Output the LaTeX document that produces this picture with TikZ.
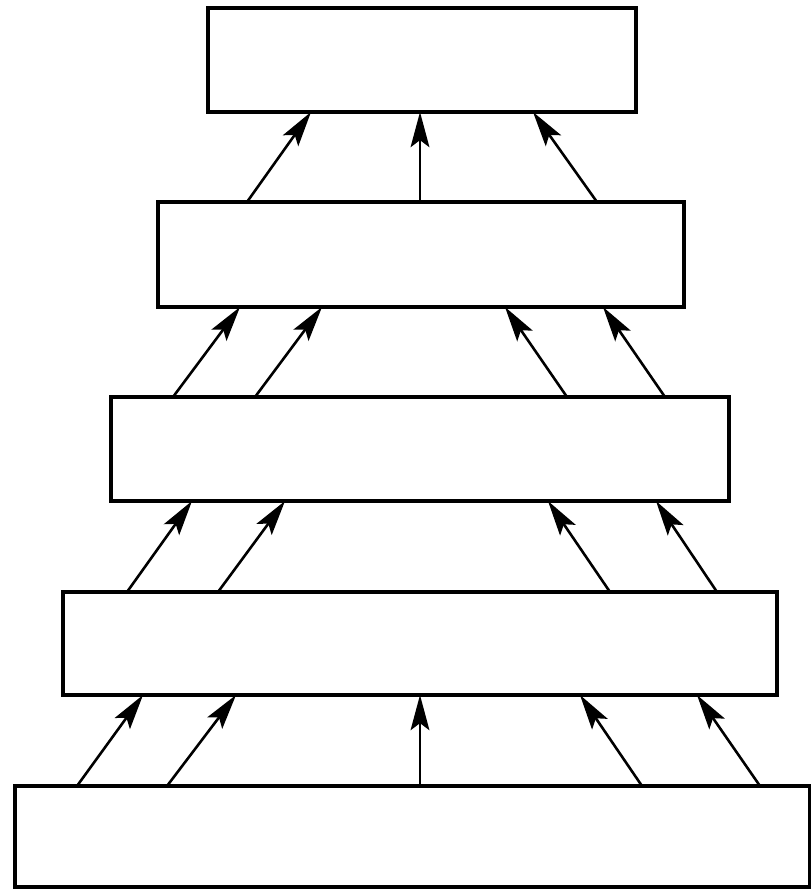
\documentclass[tikz,border=0pt]{standalone}
\usetikzlibrary{arrows.meta}
\begin{document}
\begin{tikzpicture}[x=0.03cm,y=-0.03cm]
\tikzset{
  box/.style={draw=black,line width=2.6pt,fill=white,outer sep=0pt,inner sep=0pt},
  arr/.style={line width=2.2pt,-{Stealth[length=30pt,width=16pt,inset=6pt]}}}
\fill[white] (0,0) rectangle (811,889);
\useasboundingbox (0,0) rectangle (811,889);
\node[box,minimum width=12.84cm,minimum height=3.12cm] (b1) at (422,60) {};
\node[box,minimum width=15.78cm,minimum height=3.15cm] (b2) at (421,254.5) {};
\node[box,minimum width=18.54cm,minimum height=3.12cm] (b3) at (420,449) {};
\node[box,minimum width=21.42cm,minimum height=3.09cm] (b4) at (420,643.5) {};
\node[box,minimum width=23.82cm,minimum height=3.03cm] (b5) at (412,836.5) {};
% b2 -> b1
\draw[arr] (b2.north -| 247,0) -- (b1.south -| 311,0);
\draw[arr] (b2.north -| 420,0) -- (b1.south -| 420,0);
\draw[arr] (b2.north -| 597,0) -- (b1.south -| 533,0);
% b3 -> b2
\draw[arr] (b3.north -| 173,0) -- (b2.south -| 240,0);
\draw[arr] (b3.north -| 255,0) -- (b2.south -| 322,0);
\draw[arr] (b3.north -| 567,0) -- (b2.south -| 505,0);
\draw[arr] (b3.north -| 665,0) -- (b2.south -| 603,0);
% b4 -> b3
\draw[arr] (b4.north -| 127,0) -- (b3.south -| 192,0);
\draw[arr] (b4.north -| 218,0) -- (b3.south -| 285,0);
\draw[arr] (b4.north -| 610,0) -- (b3.south -| 548,0);
\draw[arr] (b4.north -| 717,0) -- (b3.south -| 656,0);
% b5 -> b4
\draw[arr] (b5.north -| 77,0) -- (b4.south -| 143,0);
\draw[arr] (b5.north -| 167,0) -- (b4.south -| 236,0);
\draw[arr] (b5.north -| 420,0) -- (b4.south -| 420,0);
\draw[arr] (b5.north -| 642,0) -- (b4.south -| 580,0);
\draw[arr] (b5.north -| 760,0) -- (b4.south -| 697,0);
\end{tikzpicture}
\end{document}
